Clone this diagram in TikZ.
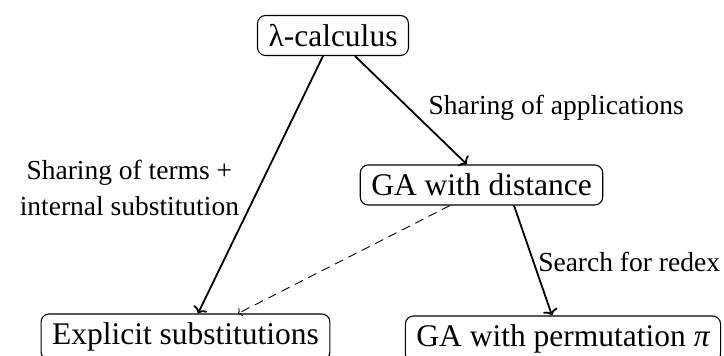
\documentclass[tikz,border=0pt]{standalone}
\usepackage{fontspec}
\setmainfont{Liberation Serif}
\usetikzlibrary{arrows.meta}
\begin{document}
\begin{tikzpicture}[x=1pt,y=1pt,
 box/.style={draw, rounded corners=8pt, line width=1.1pt, font=\fontsize{31.5}{36}\selectfont, minimum height=40pt, inner xsep=11pt, inner ysep=2pt},
 lbl/.style={font=\fontsize{27.5}{36}\selectfont, align=center, inner sep=0pt},
 arr/.style={line width=1.8pt, -{To[length=6pt,width=15pt]}},
 darr/.style={line width=0.9pt, dash pattern=on 9pt off 6pt, -{To[length=3.5pt,width=9pt]}}]
\useasboundingbox (0,0) rectangle (724,356);
\node[box] (lam) at (333,320.5) {λ-calculus};
\node[box] (gad) at (481.5,171) {GA with distance};
\node[box, minimum height=46pt] (es) at (185.5,19) {Explicit substitutions};
\node[box, minimum height=46pt] (gap) at (563,17) {GA with permutation {\itshape π}};
\draw[arr] ([xshift=-10pt]lam.south) -- node[lbl, pos=0.513, anchor=east, xshift=-19pt] {Sharing of terms +\\internal substitution} ([xshift=12.5pt]es.north);
\draw[arr] ([xshift=22pt]lam.south) -- node[lbl, pos=0.48, anchor=west, xshift=19pt] {Sharing of applications} ([xshift=-14.5pt]gad.north);
\draw[arr] ([xshift=32.5pt]gad.south) -- node[lbl, pos=0.51, anchor=west, xshift=4pt] {Search for redex} ([xshift=-11pt]gap.north);
\draw[darr] ([xshift=-31.5pt]gad.south) -- ([xshift=52.5pt]es.north);
\end{tikzpicture}
\end{document}
